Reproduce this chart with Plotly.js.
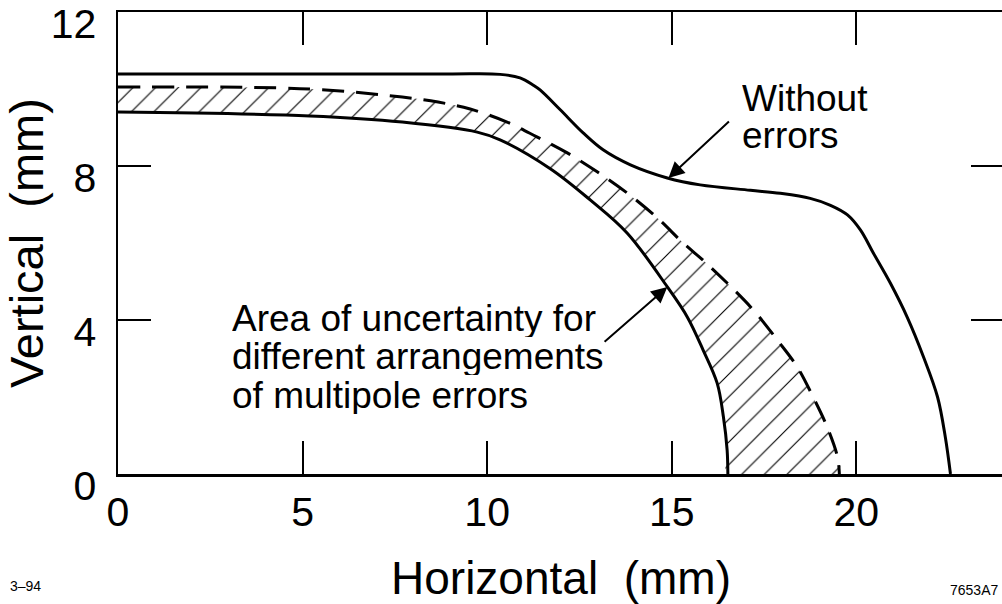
<!DOCTYPE html>
<html>
<head>
<meta charset="utf-8">
<script src="https://cdn.plot.ly/plotly-3.0.1.min.js"></script>
<style>
html,body{margin:0;padding:0;overflow:hidden;background:#fff;width:1002px;height:604px;}
#chart{width:1010px;height:604px;}
</style>
</head>
<body>
<div id="chart"></div>
<script>
// Curve without errors (solid, outer)
const withoutX = [0, 4.9, 9.0, 10.35, 10.89, 11.25, 11.44, 11.98, 12.6, 13.14, 13.88, 14.88, 15.77, 17.13, 17.94, 18.75, 19.3, 19.76, 20.11, 20.46, 20.92, 21.38, 21.82, 22.2, 22.41, 22.55];
const withoutY = [10.39, 10.39, 10.39, 10.38, 10.29, 10.10, 9.97, 9.46, 8.86, 8.42, 8.03, 7.69, 7.51, 7.37, 7.29, 7.16, 6.98, 6.73, 6.34, 5.74, 4.96, 4.07, 3.04, 2.0, 0.96, 0];
// Inner boundary of the uncertainty area (solid)
const innerX = [0, 5.2, 7.70, 9.73, 10.35, 11.71, 12.79, 13.79, 14.88, 15.42, 15.85, 16.23, 16.40, 16.50, 16.52];
const innerY = [9.40, 9.30, 9.14, 8.88, 8.68, 7.93, 7.12, 6.26, 4.86, 4.08, 3.22, 2.36, 1.48, 0.62, 0];
// Outer boundary of the uncertainty area (dashed)
const dashX = [0, 5.2, 7.70, 8.67, 9.54, 10.54, 11.36, 12.17, 12.98, 13.79, 14.61, 15.31, 15.85, 16.5, 17.21, 17.86, 18.4, 18.83, 19.21, 19.49, 19.54];
const dashY = [10.05, 10.0, 9.79, 9.66, 9.48, 9.14, 8.75, 8.34, 7.85, 7.30, 6.65, 6.00, 5.55, 4.96, 4.26, 3.48, 2.78, 2.00, 1.22, 0.44, 0];

const xTicks = [0, 5, 10, 15, 20];
const yTicks = [0, 4, 8, 12];

const FONT = 'Liberation Sans, Arial, Helvetica, sans-serif';

// Hatched band polygon built from the two boundaries
const bandX = dashX.concat(innerX.slice().reverse());
const bandY = dashY.concat(innerY.slice().reverse());

const SMOOTH = 1.0;
const traces = [
  {x: bandX, y: bandY, type: 'scatter', mode: 'lines', fill: 'toself',
   line: {width: 0, color: 'rgba(0,0,0,0)', shape: 'spline', smoothing: SMOOTH},
   fillcolor: 'white',
   fillpattern: {shape: '/', size: 16, solidity: 0.07, fgcolor: '#000', bgcolor: '#fff', fgopacity: 1},
   hoverinfo: 'skip'},
  {x: innerX, y: innerY, type: 'scatter', mode: 'lines',
   line: {color: '#000', width: 3, shape: 'spline', smoothing: SMOOTH}},
  {x: dashX, y: dashY, type: 'scatter', mode: 'lines',
   line: {color: '#000', width: 3, dash: '22px,12px', shape: 'spline', smoothing: SMOOTH}},
  {x: withoutX, y: withoutY, type: 'scatter', mode: 'lines',
   line: {color: '#000', width: 3, shape: 'spline', smoothing: SMOOTH}}
];

const annFont = {family: FONT, size: 37, color: '#000'};
const annotations = [
  {x: 16.86, y: 9.76, xref: 'x', yref: 'y', text: 'Without', showarrow: false, xanchor: 'left', yanchor: 'middle', height: 34, font: annFont},
  {x: 16.86, y: 8.80, xref: 'x', yref: 'y', text: 'errors', showarrow: false, xanchor: 'left', yanchor: 'middle', height: 34, font: annFont},
  {x: 3.04, y: 4.03, xref: 'x', yref: 'y', text: 'Area of uncertainty for', showarrow: false, xanchor: 'left', yanchor: 'middle', height: 37, font: annFont},
  {x: 3.04, y: 3.04, xref: 'x', yref: 'y', text: 'different arrangements', showarrow: false, xanchor: 'left', yanchor: 'middle', height: 37, font: annFont},
  {x: 3.04, y: 2.05, xref: 'x', yref: 'y', text: 'of multipole errors', showarrow: false, xanchor: 'left', yanchor: 'middle', height: 37, font: annFont},
  {x: 14.91, y: 7.69, ax: 16.59, ay: 9.19, xref: 'x', yref: 'y', axref: 'x', ayref: 'y', text: '', showarrow: true,
   arrowhead: 2, arrowsize: 1.6, arrowwidth: 2, arrowcolor: '#000', standoff: 0},
  {x: 14.88, y: 4.86, ax: 13.14, ay: 3.40, xref: 'x', yref: 'y', axref: 'x', ayref: 'y', text: '', showarrow: true,
   arrowhead: 2, arrowsize: 1.6, arrowwidth: 2, arrowcolor: '#000', standoff: 0},
  {x: -0.124, y: -0.242, xref: 'paper', yref: 'paper', text: '3\u201394', showarrow: false, xanchor: 'left', yanchor: 'middle',
   font: {family: FONT, size: 14, color: '#000'}},
  {x: 0.995, y: -0.251, xref: 'paper', yref: 'paper', text: '7653A7', showarrow: false, xanchor: 'right', yanchor: 'middle',
   font: {family: FONT, size: 14, color: '#000'}}
];

const axisCommon = {
  showgrid: false, zeroline: false, showline: true, linecolor: '#000', linewidth: 2.5,
  mirror: 'ticks', ticks: 'inside', ticklen: 33, tickwidth: 2, tickcolor: '#000',
  tickfont: {family: FONT, size: 41, color: '#000'}, fixedrange: true,
  ticklabeloverflow: 'allow'
};

const layout = {
  width: 1010, height: 604,
  margin: {l: 118, r: 6, t: 12, b: 130},
  paper_bgcolor: '#fff', plot_bgcolor: '#fff',
  showlegend: false,
  xaxis: Object.assign({}, axisCommon, {
    range: [0, 24], tickmode: 'array', tickvals: xTicks, ticktext: xTicks.map(String),
    ticklabelstandoff: 0,
    title: {text: 'Horizontal\u00A0\u00A0(mm)', font: {family: FONT, size: 46, color: '#000'}, standoff: 28}
  }),
  yaxis: Object.assign({}, axisCommon, {
    range: [0, 12], tickmode: 'array', tickvals: yTicks, ticktext: yTicks.map(String),
    ticklabelstandoff: 11, ticklabelshift: 12,
    title: {text: 'Vertical\u00A0\u00A0(mm)', font: {family: FONT, size: 47, color: '#000'}, standoff: 8}
  }),
  annotations: annotations
};

Plotly.newPlot('chart', traces, layout, {displayModeBar: false, staticPlot: true});
</script>
</body>
</html>
